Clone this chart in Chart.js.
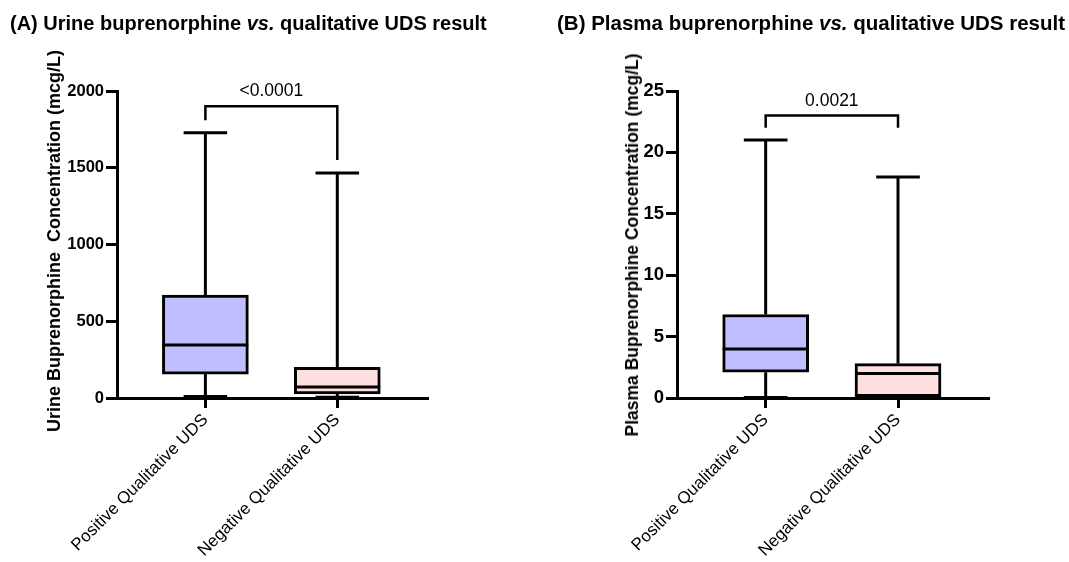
<!DOCTYPE html>
<html>
<head>
<meta charset="utf-8">
<script src="https://cdn.jsdelivr.net/npm/chart.js@4.4.1/dist/chart.umd.min.js"></script>
<style>
body { margin:0; background:#fff; font-family:"Liberation Sans", Arial, sans-serif; }
#wrap { position:relative; width:1069px; height:562px; overflow:hidden; }
canvas { position:absolute; top:0; }
.title { position:absolute; font-weight:bold; color:#000; white-space:nowrap; line-height:24px; }
.ytitle { position:absolute; font-weight:bold; color:#000; white-space:pre; line-height:20px;
  transform:translate(-50%,-50%) rotate(-90deg); }
</style>
</head>
<body>
<div id="wrap">
  <canvas id="chartA" width="535" height="562" style="left:0"></canvas>
  <canvas id="chartB" width="534" height="562" style="left:535px"></canvas>
  <div class="title" style="left:10px;top:11px;font-size:20px">(A) Urine buprenorphine <i>vs.</i> qualitative UDS result</div>
  <div class="title" style="left:557px;top:11px;font-size:20.5px">(B) Plasma buprenorphine <i>vs.</i> qualitative UDS result</div>
  <div class="ytitle" style="left:54px;top:241px;font-size:18px">Urine Buprenorphine  Concentration (mcg/L)</div>
  <div class="ytitle" style="left:632px;top:245px;font-size:17.5px">Plasma Buprenorphine Concentration (mcg/L)</div>
</div>
<script>
// groups
var categories = ["Positive Qualitative UDS", "Negative Qualitative UDS"];
var boxColors = ["rgb(191,191,255)", "rgb(255,224,224)"];

// urine buprenorphine (mcg/L)
var urineMin = [10, 5];
var urineQ1 = [156, 26];
var urineMedian = [345, 72];
var urineQ3 = [670, 200];
var urineMax = [1728, 1465];
var urineTicks = [0, 500, 1000, 1500, 2000];
// bracket: left leg end, top, right leg end
var urineBracket = [1810, 1900, 1550];
var urinePValue = "<0.0001";

// plasma buprenorphine (mcg/L)
var plasmaMin = [0.05, 0];
var plasmaQ1 = [2.1, 0.1];
var plasmaMedian = [4, 2];
var plasmaQ3 = [6.8, 2.8];
var plasmaMax = [21, 18];
var plasmaTicks = [0, 5, 10, 15, 20, 25];
var plasmaBracket = [22, 23, 22];
var plasmaPValue = "0.0021";

var fontFamily = '"Liberation Sans", Arial, sans-serif';

function makePanel(id, s)
{
  // whiskers, medians and the significance bracket
  var extras = {
    id: "extras",
    afterDatasetsDraw: function(chart) {
      var ctx = chart.ctx, x = chart.scales.x, y = chart.scales.y;
      ctx.save();
      ctx.strokeStyle = "#000";
      ctx.lineWidth = 3;
      ctx.lineCap = "butt";
      for (var i = 0; i < categories.length; i++) {
        var cx = x.getPixelForValue(i);
        var half = x.getPixelForValue(i + 0.325) - cx;
        var cap = x.getPixelForValue(i + 0.165) - cx;
        ctx.beginPath();
        ctx.moveTo(cx, y.getPixelForValue(s.q3[i]));
        ctx.lineTo(cx, y.getPixelForValue(s.max[i]));
        ctx.moveTo(cx - cap, y.getPixelForValue(s.max[i]));
        ctx.lineTo(cx + cap, y.getPixelForValue(s.max[i]));
        ctx.moveTo(cx, y.getPixelForValue(s.q1[i]));
        ctx.lineTo(cx, y.getPixelForValue(s.min[i]));
        ctx.moveTo(cx - cap, y.getPixelForValue(s.min[i]));
        ctx.lineTo(cx + cap, y.getPixelForValue(s.min[i]));
        ctx.moveTo(cx - half, y.getPixelForValue(s.median[i]));
        ctx.lineTo(cx + half, y.getPixelForValue(s.median[i]));
        ctx.stroke();
      }
      // bracket
      var x0 = x.getPixelForValue(0), x1 = x.getPixelForValue(1);
      var top = y.getPixelForValue(s.bracket[1]);
      ctx.lineWidth = 2.5;
      ctx.beginPath();
      ctx.moveTo(x0, y.getPixelForValue(s.bracket[0]));
      ctx.lineTo(x0, top);
      ctx.lineTo(x1, top);
      ctx.lineTo(x1, y.getPixelForValue(s.bracket[2]));
      ctx.stroke();
      ctx.fillStyle = "#000";
      ctx.font = "17.5px " + fontFamily;
      ctx.textAlign = "center";
      ctx.textBaseline = "bottom";
      ctx.fillText(s.pValue, (x0 + x1) / 2, top - 6);
      ctx.restore();
    }
  };

  var boxes = [];
  for (var i = 0; i < categories.length; i++) {
    boxes.push({ x: i, y: [s.q1[i], s.q3[i]] });
  }

  return new Chart(document.getElementById(id), {
    type: "bar",
    data: {
      datasets: [{
        data: boxes,
        backgroundColor: boxColors,
        borderColor: "#000",
        borderWidth: 3,
        borderSkipped: false,
        barThickness: 86
      }]
    },
    options: {
      responsive: false,
      animation: false,
      layout: { padding: { top: 91, right: s.padRight, left: 0, bottom: 0 } },
      plugins: { legend: { display: false }, tooltip: { enabled: false } },
      scales: {
        x: {
          type: "linear",
          offset: false,
          min: -0.67,
          max: 1.68,
          afterBuildTicks: function(scale) {
            scale.ticks = categories.map(function(c, i) { return { value: i }; });
          },
          afterFit: function(scale) { scale.height = 164; },
          grid: { offset: false, drawOnChartArea: false, tickLength: 10, color: "#000", lineWidth: 3 },
          border: { color: "#000", width: 3 },
          ticks: {
            autoSkip: false,
            minRotation: 45,
            maxRotation: 45,
            padding: 2,
            color: "#000",
            font: { family: fontFamily, size: 17 },
            callback: function(v) { return categories[v]; }
          }
        },
        y: {
          min: 0,
          max: s.ticks[s.ticks.length - 1],
          afterBuildTicks: function(scale) {
            scale.ticks = s.ticks.map(function(v) { return { value: v }; });
          },
          afterFit: function(scale) { scale.width = s.axisWidth; },
          grid: { drawOnChartArea: false, tickLength: 11, color: "#000", lineWidth: 3 },
          border: { color: "#000", width: 3 },
          ticks: {
            padding: 2,
            color: "#000",
            font: { family: fontFamily, size: s.tickSize, weight: "bold" },
            callback: function(v) { return String(v); }
          }
        }
      }
    },
    plugins: [extras]
  });
}

makePanel("chartA", {
  min: urineMin, q1: urineQ1, median: urineMedian, q3: urineQ3, max: urineMax,
  ticks: urineTicks, bracket: urineBracket, pValue: urinePValue,
  axisWidth: 117, padRight: 108, tickSize: 16.5
});

makePanel("chartB", {
  min: plasmaMin, q1: plasmaQ1, median: plasmaMedian, q3: plasmaQ3, max: plasmaMax,
  ticks: plasmaTicks, bracket: plasmaBracket, pValue: plasmaPValue,
  axisWidth: 142, padRight: 81, tickSize: 18.5
});
</script>
</body>
</html>
